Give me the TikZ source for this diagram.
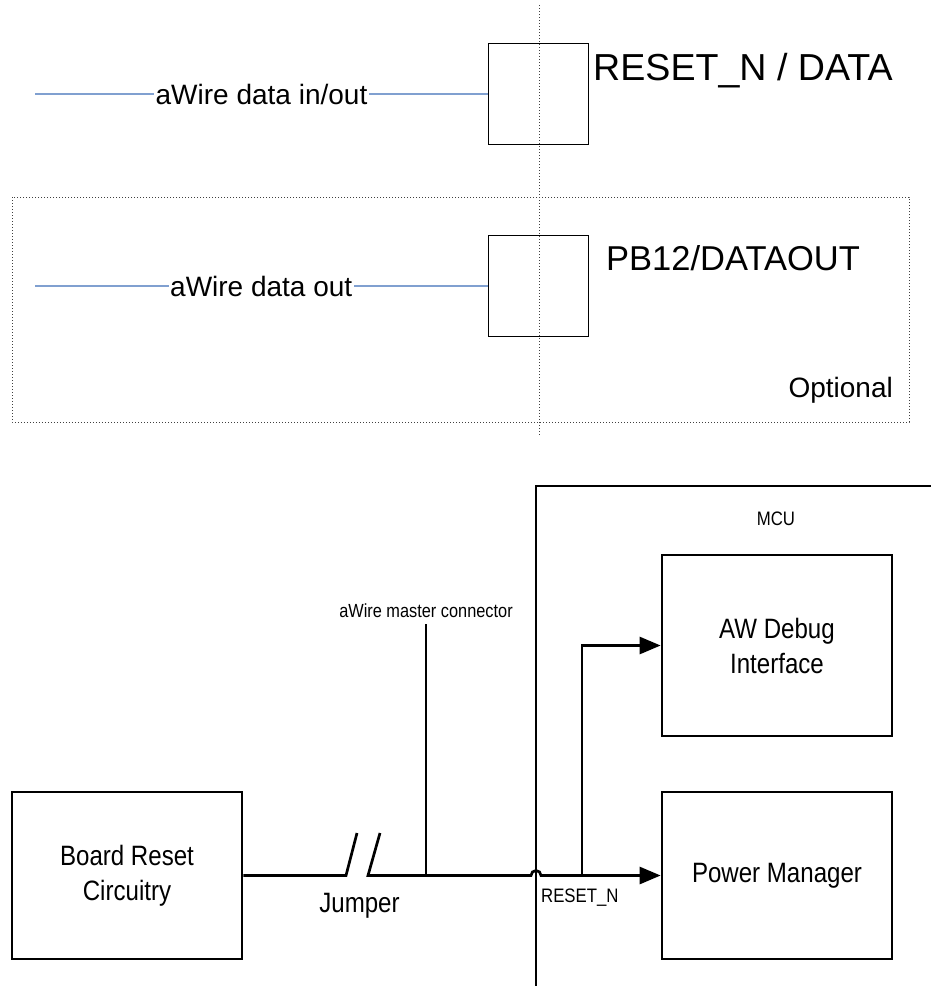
\documentclass[tikz,border=0pt]{standalone}
\usepackage{fontspec}
\setmainfont{Liberation Sans}
\newfontfamily\narrowfont[FakeStretch=0.86]{Liberation Sans}
\usetikzlibrary{arrows.meta}
\definecolor{awblue}{RGB}{128,160,208}
\begin{document}
\begin{tikzpicture}[x=1pt,y=-1pt,
  thinbox/.style={draw, line width=1pt, minimum width=100pt, minimum height=101pt, inner sep=0pt},
  blueline/.style={draw=awblue, line width=1.4pt},
  dotline/.style={draw=black!75, line width=0.9pt, dash pattern=on 0.9pt off 2.1pt},
  toplbl/.style={font=\fontsize{28}{34}\selectfont, fill=white, inner xsep=1.5pt, inner ysep=0pt},
  bigpin/.style={anchor=base west, inner sep=0pt},
  blk/.style={draw, line width=2.7pt, minimum width=230pt, align=center, font=\narrowfont\fontsize{28}{35}\selectfont, inner sep=0pt},
  wire/.style={line width=2.7pt},
  arr/.style={-{Triangle[length=21pt,width=17pt]}},
  small/.style={font=\narrowfont\fontsize{19.5}{22}\selectfont, inner sep=0pt},
]
\useasboundingbox (0,0) rectangle (931,991);

% ---------- top part ----------
\draw[dotline] (12,197) rectangle (909,422);
\node[thinbox] (box1) at (538.5,93.5) {};
\node[thinbox] (box2) at (538,285.5) {};
\draw[dotline] (539,5) -- (539,435);

\coordinate (a1) at (35,94);
\coordinate (a2) at (35,286);
\draw[blueline] (a1) -- node[toplbl] (l1) {aWire data in/out} (box1.west |- a1);
\draw[blueline] (a2) -- node[toplbl] (l2) {aWire data out} (box2.west |- a2);

\node[bigpin, font=\fontsize{37.6}{40}\selectfont] (pin1) at (593,80) {RESET\_N / DATA};
\node[bigpin, font=\fontsize{34.5}{37}\selectfont] (pin2) at (606,270) {PB12/DATAOUT};
\node[anchor=base east, inner sep=0pt, font=\fontsize{28}{30}\selectfont] (opt) at (893,397) {Optional};

% ---------- bottom part ----------
\node[blk, minimum height=167pt] (board) at (127,875.5) {Board Reset\\Circuitry};
\node[blk, minimum height=167pt] (pm) at (777,875.5) {Power Manager};
\node[blk, minimum height=181pt] (aw) at (777,645.5) {AW Debug\\Interface};

\coordinate (mcuTR) at (931,486);
\coordinate (mcuTL) at (536,486);
\coordinate (mcuBL) at (536,986);
\draw[wire, line join=miter] (mcuTR) -- (mcuTL) -- (mcuBL);
\node[small] (mcu) at (776,519) {MCU};

\coordinate (j1) at (346,875.5);
\coordinate (j1t) at (357,833);
\coordinate (j2) at (368,875.5);
\coordinate (j2t) at (380,833);
\coordinate (amcTop) at (426,624);
\coordinate (amcBot) at (426,875.5);
\coordinate (hopL) at (531,875.5);
\coordinate (br) at (582,875.5);

\draw[wire] (board.east) -- (j1) -- (j1t);
\draw[wire, arr] (j2t) -- (j2) -- (hopL) arc[start angle=180, end angle=0, radius=5pt] -- (pm.west);
\draw[wire, arr] (br) |- (aw.west);
\draw[line width=2.3pt] (amcTop) -- (amcBot);

\node[small, anchor=base, font=\narrowfont\fontsize{19}{22}\selectfont] (amc) at (426,617) {aWire master connector};
\node[anchor=base, inner sep=0pt, font=\narrowfont\fontsize{28}{30}\selectfont] (jmp) at (359.5,912) {Jumper};
\node[small, anchor=base west] (rst) at (541,902) {RESET\_N};
\end{tikzpicture}
\end{document}
